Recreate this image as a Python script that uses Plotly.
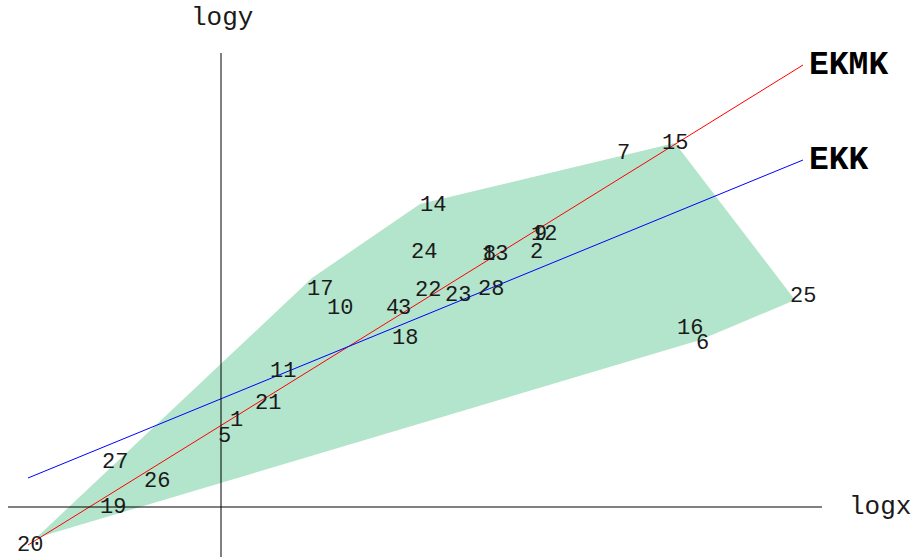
import plotly.graph_objects as go

# Observation ids and their (log x, log y) coordinates
ids = list(range(1, 29))
log_x = [0.15, 3.15, 1.83, 1.71, 0.03, 4.79, 4.02, 2.68, 3.19, 1.19,
         0.62, 3.23, 2.74, 1.99, 4.54, 4.69, 0.91, 1.84, -1.08, -1.85,
         0.47, 2.07, 2.37, 2.03, 5.74, -0.64, -1.06, 2.70]
log_y = [0.87, 2.55, 1.99, 1.99, 0.71, 1.67, 3.54, 2.53, 2.73, 1.99,
         1.36, 2.73, 2.53, 3.03, 3.64, 1.79, 2.29, 1.69, 0.00, -0.31,
         1.04, 2.17, 2.12, 2.55, 2.07, 0.26, 0.45, 2.18]

# Convex hull of the observations, as ids in drawing order
hull_ids = [20, 6, 25, 15, 14, 17]

# Fitted lines (end points in log units)
ekmk_x = [-1.93, 5.82]
ekmk_y = [-0.38, 4.42]
ekk_x = [-1.93, 5.82]
ekk_y = [0.29, 3.47]

# Label nudges in pixels (right, up) so numbers don't sit on hull corners
label_shift = {20: (-6, -7), 17: (8, -11), 14: (13, -1), 25: (8, 4), 6: (2, -3)}

mono = "Liberation Mono, Courier New, monospace"
ink = "#1a1a1a"

fig = go.Figure()

pos = {i: (x, y) for i, x, y in zip(ids, log_x, log_y)}
hx = [pos[i][0] for i in hull_ids] + [pos[hull_ids[0]][0]]
hy = [pos[i][1] for i in hull_ids] + [pos[hull_ids[0]][1]]
fig.add_trace(go.Scatter(x=hx, y=hy, mode="lines", fill="toself",
                         fillcolor="#b3e4cc", line=dict(width=0),
                         hoverinfo="skip", showlegend=False))

# Coordinate axes through the origin
fig.add_shape(type="line", x0=-2.13, x1=6.01, y0=0, y1=0,
              line=dict(color="black", width=1), layer="above")
fig.add_shape(type="line", x0=0, x1=0, y0=-0.6, y1=4.54,
              line=dict(color="black", width=1), layer="above")

fig.add_trace(go.Scatter(x=ekmk_x, y=ekmk_y, mode="lines",
                         line=dict(color="#ff0000", width=1), showlegend=False))
fig.add_trace(go.Scatter(x=ekk_x, y=ekk_y, mode="lines",
                         line=dict(color="#0000ff", width=1), showlegend=False))

for i, x, y in zip(ids, log_x, log_y):
    dx, dy = label_shift.get(i, (0, 0))
    fig.add_annotation(x=x, y=y, text=str(i), showarrow=False,
                       xanchor="center", yanchor="middle", xshift=dx, yshift=dy,
                       font=dict(family=mono, size=22, color=ink))

for name, lx, ly in [("EKMK", ekmk_x, ekmk_y), ("EKK", ekk_x, ekk_y)]:
    fig.add_annotation(x=lx[-1], y=ly[-1], text="<b>%s</b>" % name, showarrow=False,
                       xanchor="left", yanchor="middle", xshift=4,
                       font=dict(family=mono, size=33, color="black"))

fig.add_annotation(x=6.59, y=0, text="logx", showarrow=False,
                   xanchor="center", yanchor="middle",
                   font=dict(family=mono, size=26, color=ink))
fig.add_annotation(x=0.01, y=4.89, text="logy", showarrow=False,
                   xanchor="center", yanchor="middle",
                   font=dict(family=mono, size=26, color=ink))

fig.update_xaxes(range=[-2.21, 6.92], visible=False)
fig.update_yaxes(range=[-0.50, 5.07], visible=False)
fig.update_layout(width=913, height=557, margin=dict(l=0, r=0, t=0, b=0),
                  plot_bgcolor="white", paper_bgcolor="white")

fig.write_html("out.html")
